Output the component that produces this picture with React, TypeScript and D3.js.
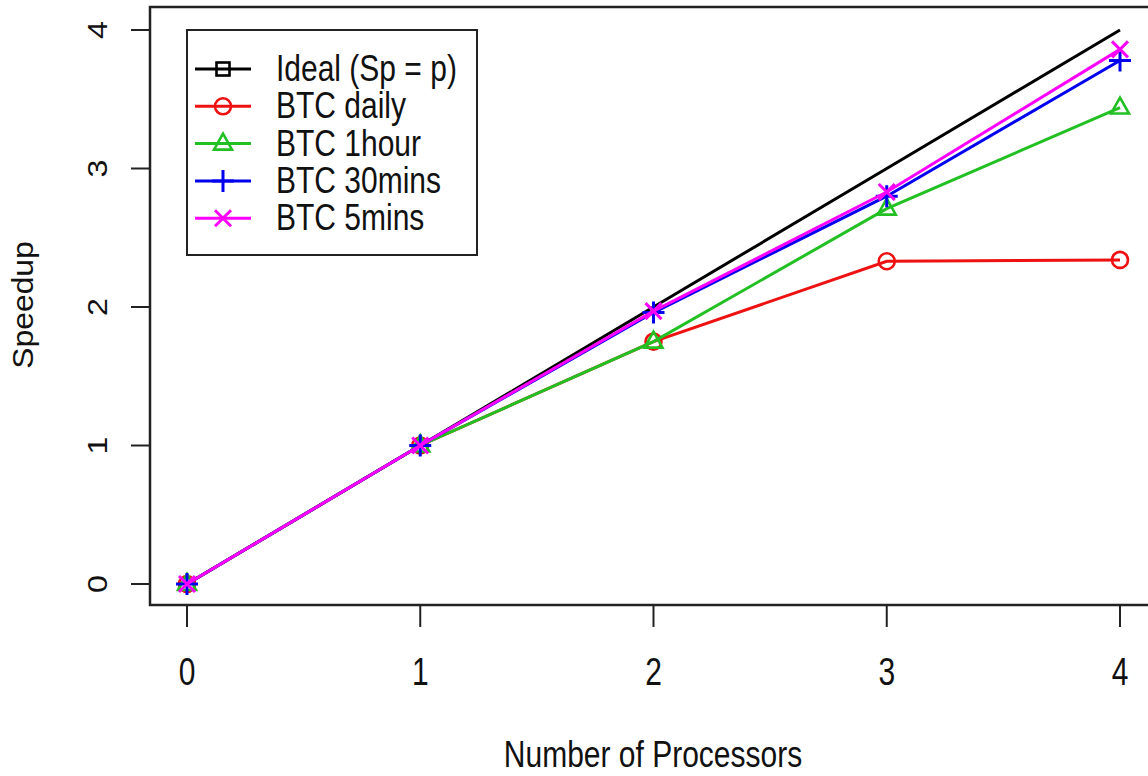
import React from "react";
import * as d3 from "d3";

const processors = [0, 1, 2, 3, 4];
const seriesNames = ["Ideal (Sp = p)", "BTC daily", "BTC 1hour", "BTC 30mins", "BTC 5mins"];
const idealValues = [0, 1, 2, 3, 4];
const dailyValues = [0, 1, 1.75, 2.33, 2.34];
const hourValues = [0, 1, 1.75, 2.71, 3.44];
const min30Values = [0, 1, 1.96, 2.8, 3.78];
const min5Values = [0, 1, 1.97, 2.83, 3.86];
const seriesColors = ["#000000", "#ee1111", "#22c022", "#0000ee", "#ff00ff"];
const seriesShapes = ["square", "circle", "triangle", "plus", "cross"];
const showPlotMarkers = [false, true, true, true, true];
const xTicks = [0, 1, 2, 3, 4];
const yTicks = [0, 1, 2, 3, 4];

const W = 1148;
const H = 776;
const FONT = "'Liberation Sans', Arial, sans-serif";

function Marker({ shape, cx, cy, color }: { shape: string; cx: number; cy: number; color: string }) {
  const sw = 2.6;
  const s = 8;
  if (shape === "square")
    return <rect x={cx - 6.5} y={cy - 6.5} width={13} height={13} fill="none" stroke={color} strokeWidth={sw} />;
  if (shape === "circle") return <circle cx={cx} cy={cy} r={8} fill="none" stroke={color} strokeWidth={sw} />;
  if (shape === "triangle") {
    const p = `${cx},${cy - 10} ${cx - 9},${cy + 6} ${cx + 9},${cy + 6}`;
    return <polygon points={p} fill="none" stroke={color} strokeWidth={sw} />;
  }
  if (shape === "plus")
    return (
      <path d={`M${cx - 11},${cy}H${cx + 11}M${cx},${cy - 11}V${cy + 11}`} stroke={color} strokeWidth={3} fill="none" />
    );
  return (
    <path
      d={`M${cx - s},${cy - s}L${cx + s},${cy + s}M${cx - s},${cy + s}L${cx + s},${cy - s}`}
      stroke={color}
      strokeWidth={3}
      fill="none"
    />
  );
}

export default function App() {
  const x = d3.scaleLinear().domain([0, 4]).range([187, 1120]);
  const y = d3.scaleLinear().domain([0, 4]).range([584, 30]);
  const allSeries = [idealValues, dailyValues, hourValues, min30Values, min5Values];
  const line = d3
    .line<number>()
    .x((_, i) => x(processors[i]))
    .y((d) => y(d));

  const boxLeft = 150;
  const boxTop = 7;
  const boxBottom = 605;
  const boxRight = 1170;

  const legX = 187;
  const legY = 30;
  const legW = 290;
  const legH = 225;
  const rowY0 = 69;
  const rowStep = 37.3;

  return (
    <svg width={W} height={H} style={{ position: "absolute", left: 0, top: 0, background: "#fff" }}>
      <rect x={0} y={0} width={W} height={H} fill="#fff" />
      {/* plot box */}
      <path
        d={`M${boxRight},${boxTop}H${boxLeft}V${boxBottom}H${boxRight}`}
        fill="none"
        stroke="#222"
        strokeWidth={2.5}
      />
      {/* x axis ticks */}
      {xTicks.map((t) => (
        <g key={"xt" + t}>
          <line x1={x(t)} x2={x(t)} y1={boxBottom} y2={627} stroke="#222" strokeWidth={2} />
          <text
            transform={`translate(${x(t)},685) scale(1,1.3)`}
            textAnchor="middle"
            fontFamily={FONT}
            fontSize={30}
            fill="#111"
          >
            {t}
          </text>
        </g>
      ))}
      {/* y axis ticks */}
      {yTicks.map((t) => (
        <g key={"yt" + t}>
          <line x1={131} x2={boxLeft} y1={y(t)} y2={y(t)} stroke="#222" strokeWidth={2} />
          <text
            transform={`translate(107,${y(t)}) scale(1,1.15) rotate(-90)`}
            textAnchor="middle"
            fontFamily={FONT}
            fontSize={28}
            fill="#111"
          >
            {t}
          </text>
        </g>
      ))}
      <text
        transform={`translate(653,767) scale(1,1.23)`}
        textAnchor="middle"
        fontFamily={FONT}
        fontSize={30}
        fill="#111"
      >
        Number of Processors
      </text>
      <text
        transform={`translate(33,305) scale(1,1.1) rotate(-90)`}
        textAnchor="middle"
        fontFamily={FONT}
        fontSize={29}
        fill="#111"
      >
        Speedup
      </text>
      {/* series */}
      {allSeries.map((vals, si) => (
        <g key={"s" + si}>
          <path d={line(vals) || ""} fill="none" stroke={seriesColors[si]} strokeWidth={3} />
          {showPlotMarkers[si] &&
            vals.map((v, i) => (
              <Marker key={i} shape={seriesShapes[si]} cx={x(processors[i])} cy={y(v)} color={seriesColors[si]} />
            ))}
        </g>
      ))}
      {/* legend */}
      <rect x={legX} y={legY} width={legW} height={legH} fill="#fff" stroke="#222" strokeWidth={2} />
      {seriesNames.map((n, i) => {
        const ry = rowY0 + i * rowStep;
        return (
          <g key={"l" + i}>
            <line x1={195} x2={251} y1={ry} y2={ry} stroke={seriesColors[i]} strokeWidth={3} />
            <Marker shape={seriesShapes[i]} cx={223} cy={ry} color={seriesColors[i]} />
            <text
              transform={`translate(276,${ry + 12}) scale(1,1.2)`}
              fontFamily={FONT}
              fontSize={30}
              fill="#111"
            >
              {n}
            </text>
          </g>
        );
      })}
    </svg>
  );
}
